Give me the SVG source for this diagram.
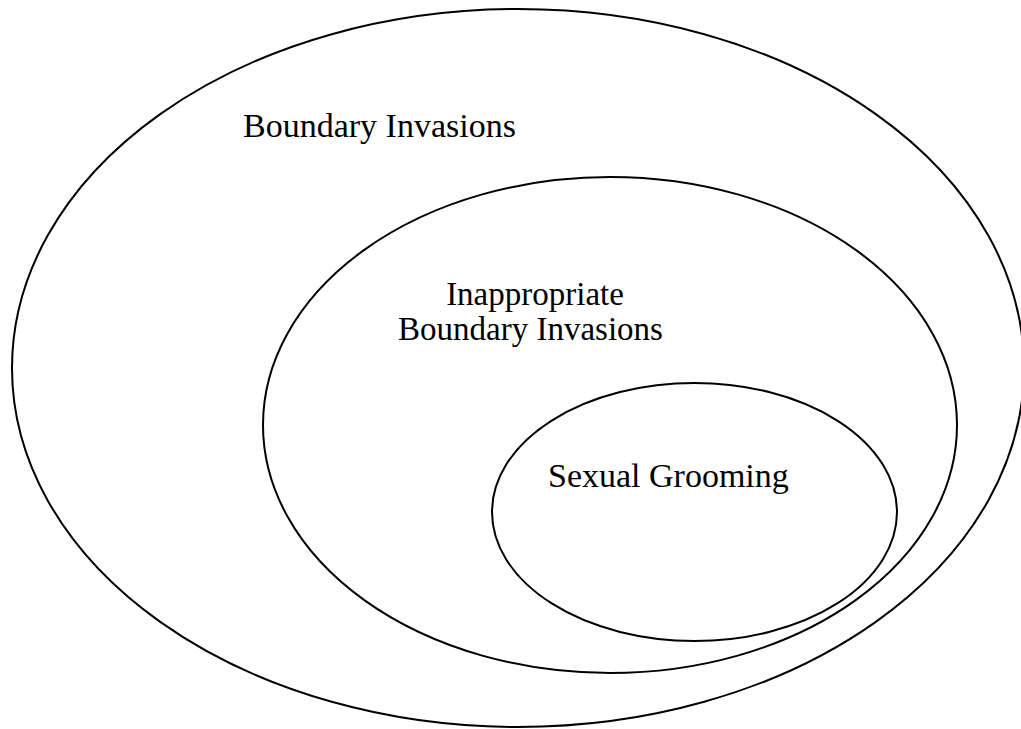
<svg xmlns="http://www.w3.org/2000/svg" width="1021" height="729" viewBox="0 0 1021 729">
<style>
.e{fill:none;stroke:#000;stroke-width:2}
.t{font-family:"Liberation Serif","Times New Roman",serif;font-size:34px;fill:#000}
</style>
<rect width="1021" height="729" fill="#fff"/>
<g id="outer"><ellipse class="e" cx="518" cy="368" rx="506" ry="359"/><text class="t" x="243" y="137">Boundary Invasions</text></g>
<g id="middle"><ellipse class="e" cx="610" cy="425" rx="347" ry="248"/><text class="t" text-anchor="middle" style="font-size:33px" x="535" y="305">Inappropriate</text><text class="t" text-anchor="middle" style="font-size:33px" x="530.5" y="340">Boundary Invasions</text></g>
<g id="inner"><ellipse class="e" cx="694.5" cy="512" rx="202.5" ry="129"/><text class="t" x="548" y="487">Sexual Grooming</text></g>
<g id="connectors"></g>
</svg>
